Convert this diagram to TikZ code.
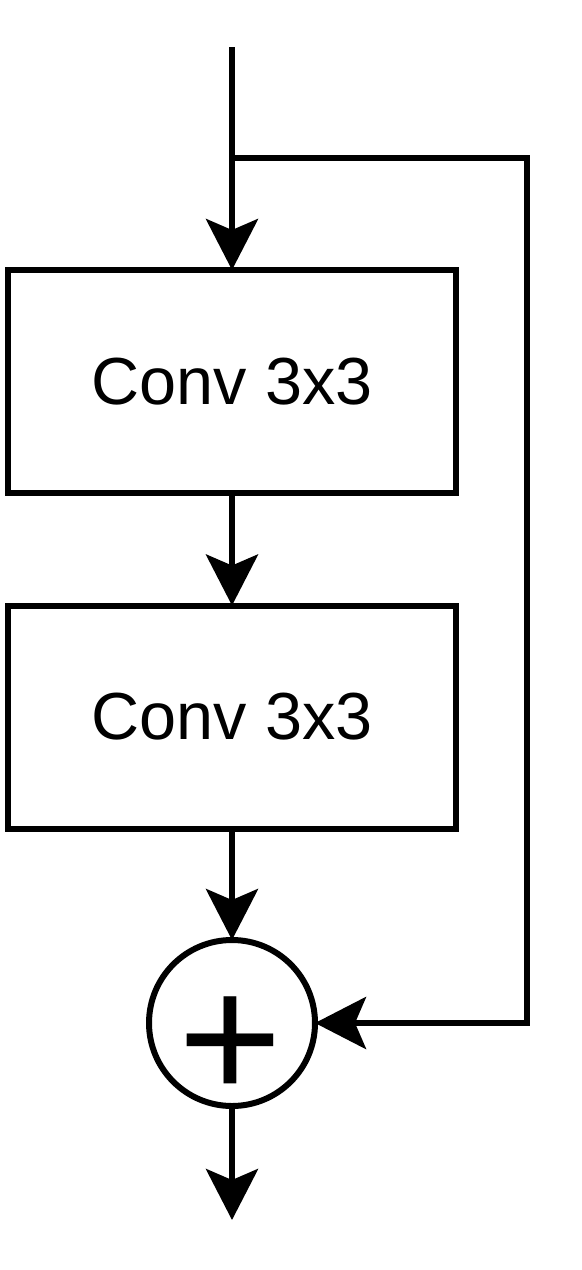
\documentclass[tikz,border=0pt]{standalone}
\usepackage{fontspec}
\setmainfont{Liberation Sans}
\usetikzlibrary{arrows.meta}
\begin{document}
\begin{tikzpicture}[x=0.5pt,y=-0.5pt,
  line width=3pt,
  arr/.style={-{Stealth[length=25.5pt,width=26pt,inset=5.5pt]}},
  convbox/.style={draw,minimum width=224pt,minimum height=111.5pt,outer sep=0pt,inner sep=0pt,font=\fontsize{33.3}{40}\selectfont},
  sumnode/.style={draw,circle,minimum size=83pt,outer sep=0pt,inner sep=0pt}]
\useasboundingbox (0,0) rectangle (582,1270);
\coordinate (in) at (232,47);
\coordinate (split) at (232,158);
\coordinate (skip) at (527,158);
\node[convbox] (c1) at (232,381.5) {Conv 3x3};
\node[convbox] (c2) at (232,717) {Conv 3x3};
\node[sumnode] (sum) at (232,1023) {};
\node[font=\fontsize{89}{94}\selectfont,inner sep=0pt] (plus) at (230,1048) {+};
\coordinate (out) at (232,1220);
\draw[arr] (in) -- (c1);
\draw[arr] (c1) -- (c2);
\draw[arr] (c2) -- (sum);
\draw[arr] (split) -- (skip) |- (sum);
\draw[arr] (sum) -- (out);
\end{tikzpicture}
\end{document}
